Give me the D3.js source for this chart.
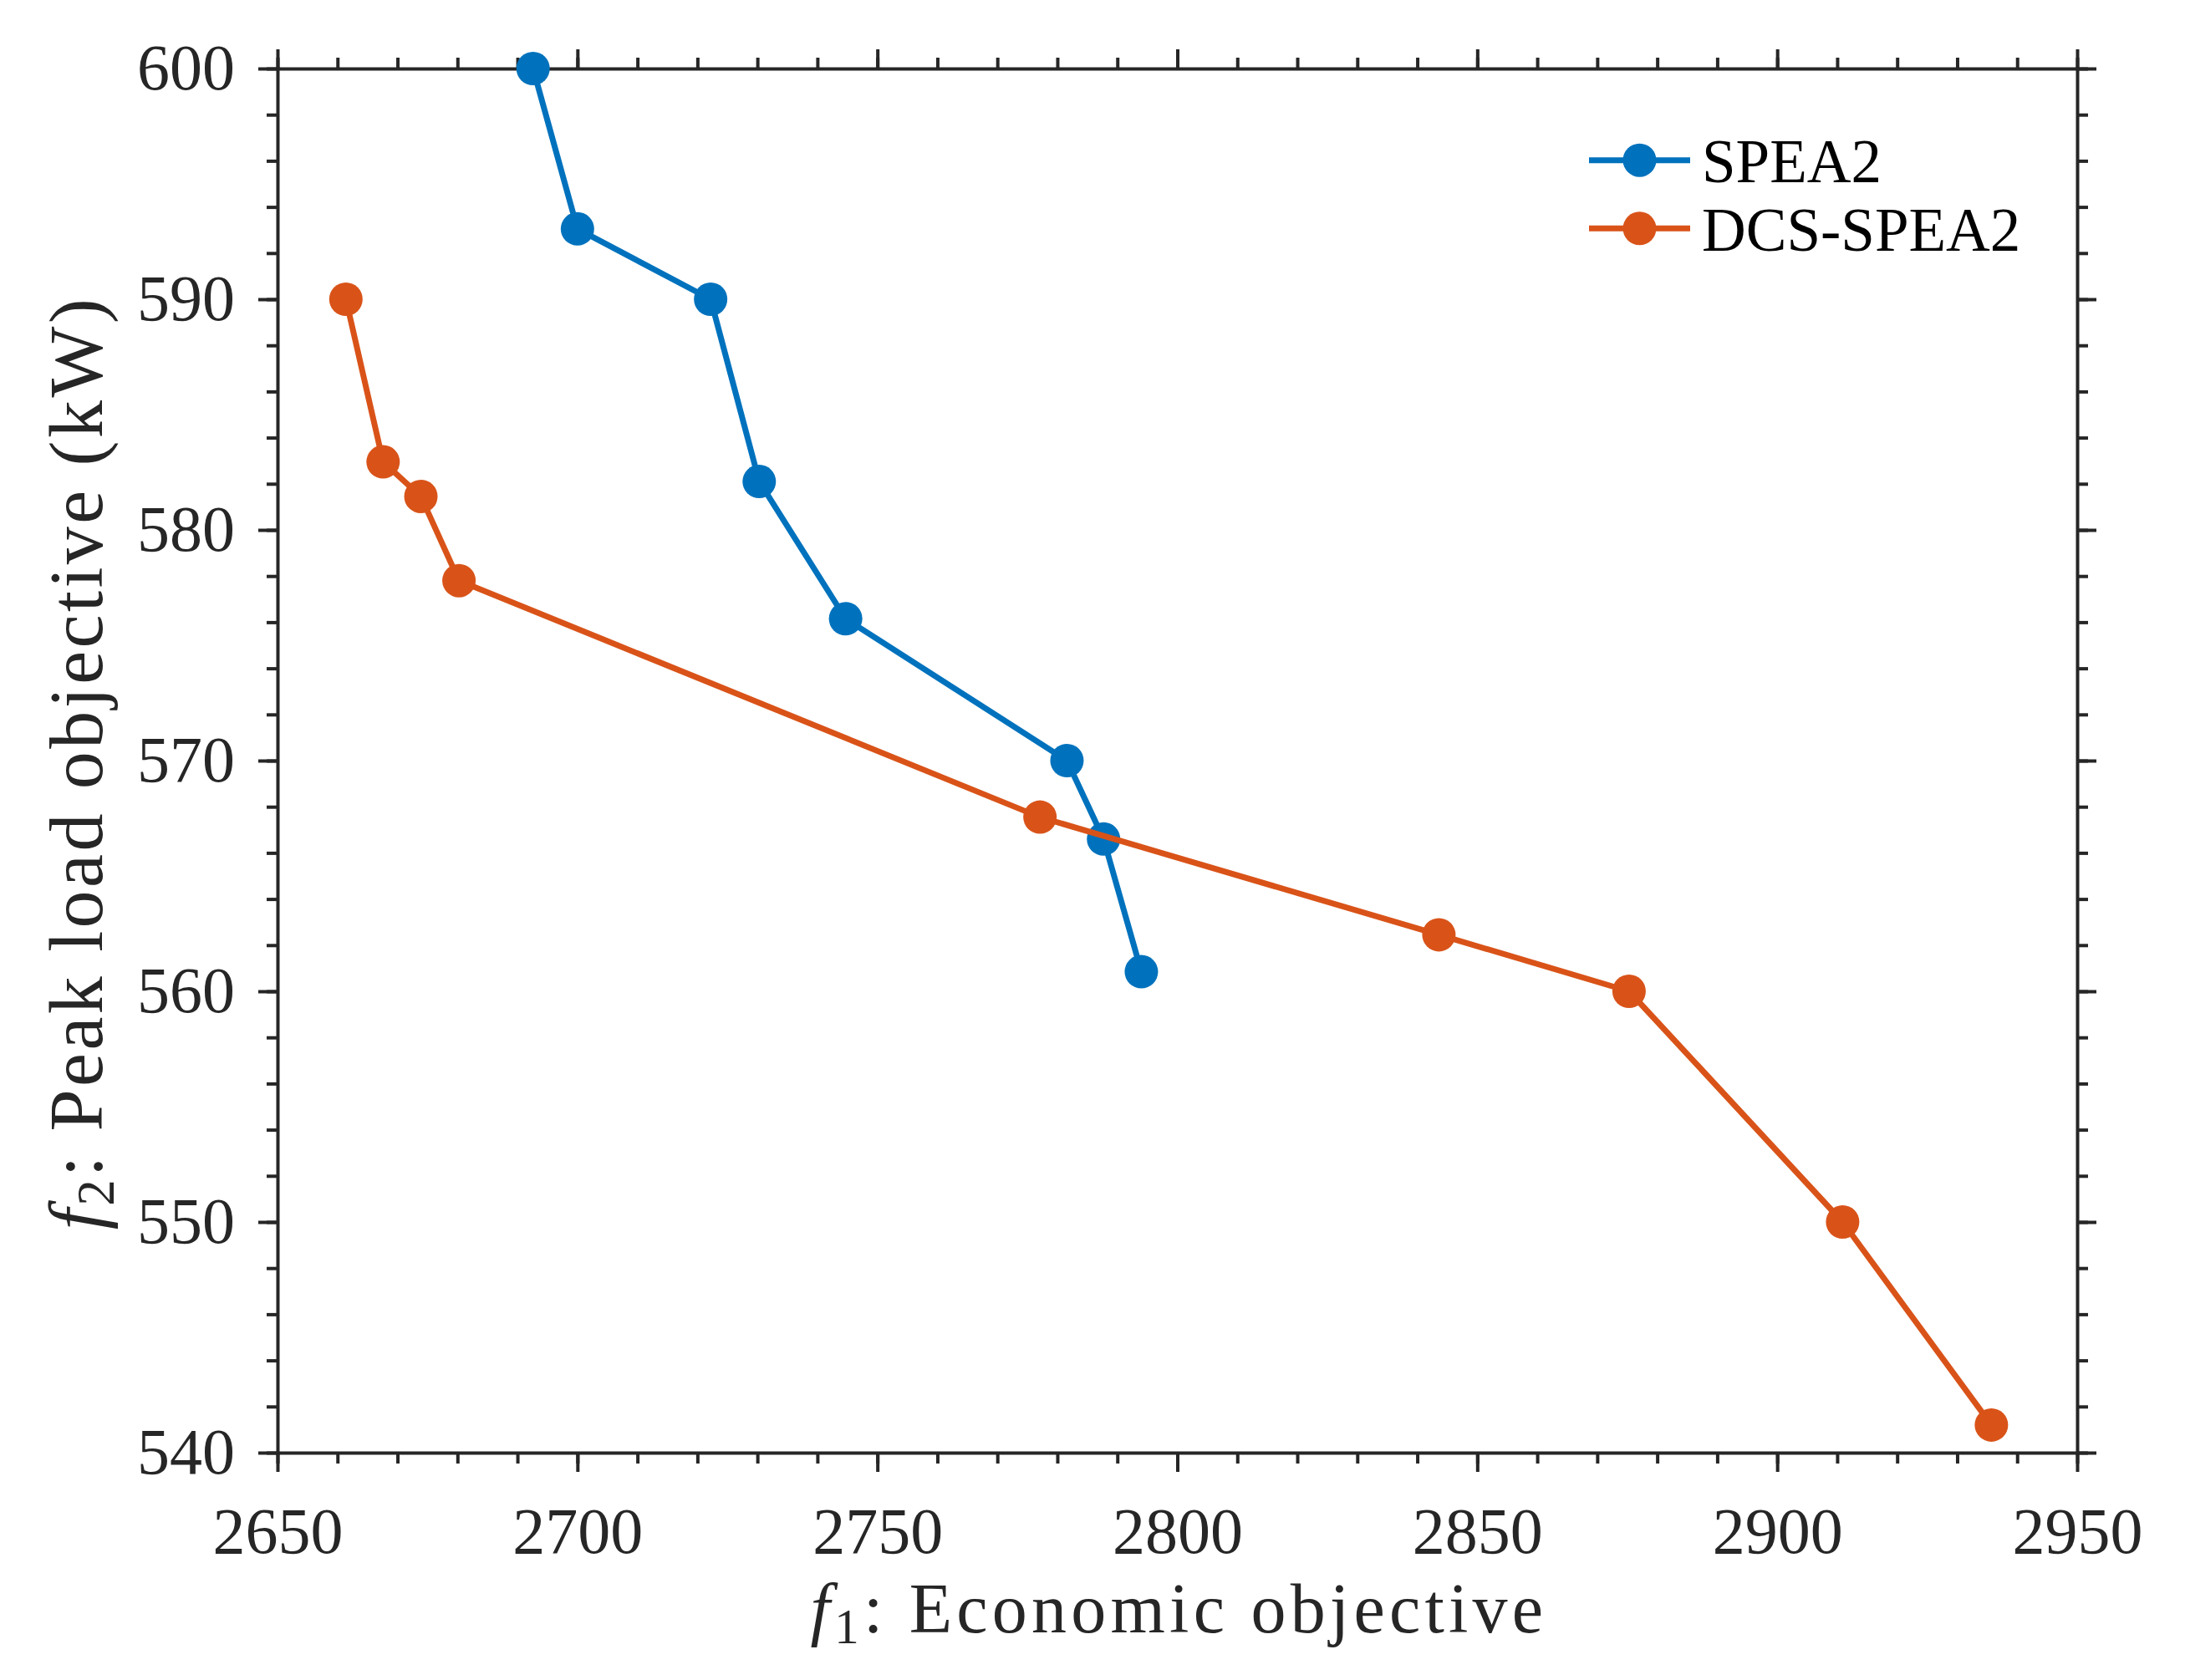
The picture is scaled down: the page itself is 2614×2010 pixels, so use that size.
<!DOCTYPE html>
<html>
<head>
<meta charset="utf-8">
<script src="https://cdn.jsdelivr.net/npm/d3@7"></script>
<style>
  html, body { margin: 0; padding: 0; background: #ffffff; }
  svg { display: block; }
</style>
</head>
<body>
<script>
// ---- data ----
const seriesNames = ["SPEA2", "DCS-SPEA2"];
const spea2X = [2692.6, 2700.0, 2722.2, 2730.3, 2744.7, 2781.6, 2787.7, 2794.0];
const spea2Y = [600.0, 593.05, 590.0, 582.1, 576.15, 570.0, 566.6, 560.85];
const dcsX = [2661.4, 2667.6, 2673.9, 2680.25, 2777.1, 2843.6, 2875.3, 2910.9, 2935.7];
const dcsY = [590.0, 582.95, 581.45, 577.8, 567.55, 562.45, 560.0, 550.0, 541.2];
const xTicks = [2650, 2700, 2750, 2800, 2850, 2900, 2950];
const yTicks = [540, 550, 560, 570, 580, 590, 600];
const xMinorTicks = d3.range(2650, 2951, 10);
const yMinorTicks = d3.range(540, 601, 2);
const seriesColors = ["#0072BD", "#D95319"];

(function () {
const W = 2614, H = 2010;
const pL = 332, pR = 2485, pT = 82, pB = 1738;
const axisColor = "#262626";
const tickFont = "'Liberation Serif', 'Times New Roman', serif";

const svg = d3.select("body").append("svg")
  .attr("width", W).attr("height", H)
  .attr("viewBox", `0 0 ${W} ${H}`);
svg.append("rect").attr("width", W).attr("height", H).attr("fill", "#fff");

const x = d3.scaleLinear().domain([2650, 2950]).range([pL, pR]);
const y = d3.scaleLinear().domain([540, 600]).range([pB, pT]);

function styleAxis(g) {
  g.selectAll("path").attr("stroke", axisColor).attr("stroke-width", 4);
  g.selectAll("line").attr("stroke", axisColor).attr("stroke-width", 4);
  g.selectAll("text").attr("fill", axisColor)
    .style("font-family", tickFont).style("font-size", "78px");
}

// minor ticks
const minorSpecs = [
  [d3.axisBottom(x), `translate(0,${pB})`, xMinorTicks],
  [d3.axisTop(x), `translate(0,${pT})`, xMinorTicks],
  [d3.axisLeft(y), `translate(${pL},0)`, yMinorTicks],
  [d3.axisRight(y), `translate(${pR},0)`, yMinorTicks]
];
minorSpecs.forEach(([ax, tr, vals]) => {
  const g = svg.append("g").attr("transform", tr)
    .call(ax.tickValues(vals).tickSize(13).tickSizeOuter(0).tickFormat(""));
  g.select("path").remove();
  styleAxis(g);
});

// major axes
const gB = svg.append("g").attr("transform", `translate(0,${pB})`)
  .call(d3.axisBottom(x).tickValues(xTicks).tickSize(23).tickSizeOuter(0).tickPadding(42).tickFormat(d3.format("d")));
const gT = svg.append("g").attr("transform", `translate(0,${pT})`)
  .call(d3.axisTop(x).tickValues(xTicks).tickSize(23).tickSizeOuter(0).tickFormat(""));
const gL = svg.append("g").attr("transform", `translate(${pL},0)`)
  .call(d3.axisLeft(y).tickValues(yTicks).tickSize(23).tickSizeOuter(0).tickPadding(28).tickFormat(d3.format("d")));
const gR = svg.append("g").attr("transform", `translate(${pR},0)`)
  .call(d3.axisRight(y).tickValues(yTicks).tickSize(23).tickSizeOuter(0).tickFormat(""));
[gB, gT, gL, gR].forEach(styleAxis);
[gB, gT, gL, gR].forEach(g => g.select("path").attr("stroke-linecap", "square"));

// data series
const seriesData = [
  spea2X.map((v, i) => [v, spea2Y[i]]),
  dcsX.map((v, i) => [v, dcsY[i]])
];
const line = d3.line().x(d => x(d[0])).y(d => y(d[1]));
seriesData.forEach((pts, si) => {
  const g = svg.append("g");
  g.append("path").datum(pts)
    .attr("d", line).attr("fill", "none")
    .attr("stroke", seriesColors[si]).attr("stroke-width", 7)
    .attr("stroke-linejoin", "round");
  g.selectAll("circle").data(pts).join("circle")
    .attr("cx", d => x(d[0])).attr("cy", d => y(d[1]))
    .attr("r", 20).attr("fill", seriesColors[si]);
});

// legend
const legRows = [191.7, 273.3];
seriesNames.forEach((name, i) => {
  const g = svg.append("g");
  g.append("line").attr("x1", 1901).attr("x2", 2022)
    .attr("y1", legRows[i]).attr("y2", legRows[i])
    .attr("stroke", seriesColors[i]).attr("stroke-width", 7);
  g.append("circle").attr("cx", 1961.5).attr("cy", legRows[i]).attr("r", 20)
    .attr("fill", seriesColors[i]);
  g.append("text").attr("x", 2036).attr("y", legRows[i] + 26.6)
    .style("font-family", tickFont).style("font-size", "73px")
    .attr("fill", "#000").text(name);
});

// axis labels
function fitWidth(textSel, target) {
  const node = textSel.node();
  const len = node.getComputedTextLength();
  const n = node.textContent.length;
  const ls = (target - len) / n;
  textSel.attr("letter-spacing", ls);
}

const xl = svg.append("text")
  .attr("x", (967 + 1854) / 2).attr("y", 1953)
  .attr("text-anchor", "middle").attr("fill", axisColor)
  .style("font-family", tickFont).style("font-size", "84px");
xl.append("tspan").style("font-style", "italic").text("f");
xl.append("tspan").style("font-size", "59px").attr("dy", 13).text("1");
xl.append("tspan").attr("dy", -13).text(":  Economic objective");
fitWidth(xl, 1854 - 967);

const yl = svg.append("text")
  .attr("transform", `translate(122,${(352 + 1473) / 2}) rotate(-90)`)
  .attr("text-anchor", "middle").attr("fill", axisColor)
  .style("font-family", tickFont).style("font-size", "90px");
yl.append("tspan").style("font-style", "italic").text("f");
yl.append("tspan").style("font-size", "63px").attr("dy", 14).text("2");
yl.append("tspan").attr("dy", -14).text(":  Peak load objective (kW)");
fitWidth(yl, 1473 - 352);
})();
</script>
</body>
</html>
